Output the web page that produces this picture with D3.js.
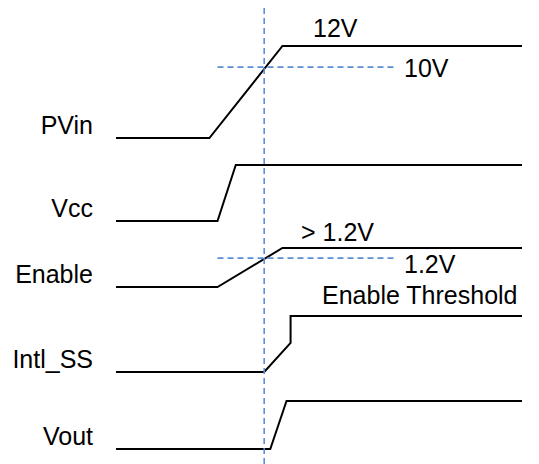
<!DOCTYPE html>
<html>
<head>
<meta charset="utf-8">
<script src="https://cdn.jsdelivr.net/npm/d3@7"></script>
<style>
html,body{margin:0;padding:0;background:#fff;}
svg{display:block;}
text{font-family:"Liberation Sans",Arial,sans-serif;font-size:25px;fill:#000;}
</style>
</head>
<body>
<svg id="chart" width="539" height="464"></svg>
<script>
// ---- data (time in arbitrary units 0..100, level 0=low 1=high) ----
const signals = ["PVin", "Vcc", "Enable", "Intl_SS", "Vout"];
const pvinWave   = [[0,0],[23,0],[41,1],[100,1]];
const vccWave    = [[0,0],[25,0],[29.5,1],[100,1]];
const enableWave = [[0,0],[25,0],[41,1],[100,1]];
const ssWave     = [[0,0],[36.5,0],[43,0.52],[43,1],[100,1]];
const voutWave   = [[0,0],[38,0],[42,1],[100,1]];
const waves = [pvinWave, vccWave, enableWave, ssWave, voutWave];
const enableTime = 36.5;           // vertical marker
const pvinThreshold = 0.77;        // 10V of 12V
const enableThresholdLevel = 0.74; // 1.2V
const thresholdSpan = [25, 69];
const pvinLabels = ["12V", "10V"];
const enableLabels = ["> 1.2V", "1.2V", "Enable Threshold"];

// ---- layout ----
const svg = d3.select("#chart");
const x = d3.scaleLinear().domain([0,100]).range([116,522]);
const rowLow  = [138, 221, 287, 372, 449];
const rowHigh = [46, 165, 248, 316, 401];
const yScales = signals.map((s,i)=>d3.scaleLinear().domain([0,1]).range([rowLow[i], rowHigh[i]]));
const blue = "#5a8fd8";

// signal labels
svg.selectAll("text.sig").data(signals).join("text")
  .attr("class","sig")
  .attr("x",93).attr("y",(d,i)=>rowLow[i]-4)
  .attr("text-anchor","end").text(d=>d);

// waveforms
const line = (ys)=>d3.line().x(d=>x(d[0])).y(d=>ys(d[1]));
svg.selectAll("path.wave").data(waves).join("path")
  .attr("class","wave")
  .attr("d",(d,i)=>line(yScales[i])(d))
  .attr("fill","none").attr("stroke","#000").attr("stroke-width",2)
  .attr("stroke-linejoin","miter");

// threshold dashed lines
const thr = [[0,pvinThreshold],[2,enableThresholdLevel]];
svg.selectAll("line.thr").data(thr).join("line")
  .attr("class","thr")
  .attr("x1",x(thresholdSpan[0])).attr("x2",x(thresholdSpan[1]))
  .attr("y1",d=>yScales[d[0]](d[1])).attr("y2",d=>yScales[d[0]](d[1]))
  .attr("stroke",blue).attr("stroke-width",1.6).attr("stroke-dasharray","6,4");

// vertical marker
svg.append("line")
  .attr("x1",x(enableTime)).attr("x2",x(enableTime))
  .attr("y1",8).attr("y2",464)
  .attr("stroke",blue).attr("stroke-width",1.6).attr("stroke-dasharray","6,4");

// annotations
svg.append("text").attr("x",313).attr("y",37).text(pvinLabels[0]);
svg.append("text").attr("x",404).attr("y",77).text(pvinLabels[1]);
svg.append("text").attr("x",301).attr("y",241).text(enableLabels[0]);
svg.append("text").attr("x",404).attr("y",273).text(enableLabels[1]);
svg.append("text").attr("x",322).attr("y",304).text(enableLabels[2]);
</script>
</body>
</html>
